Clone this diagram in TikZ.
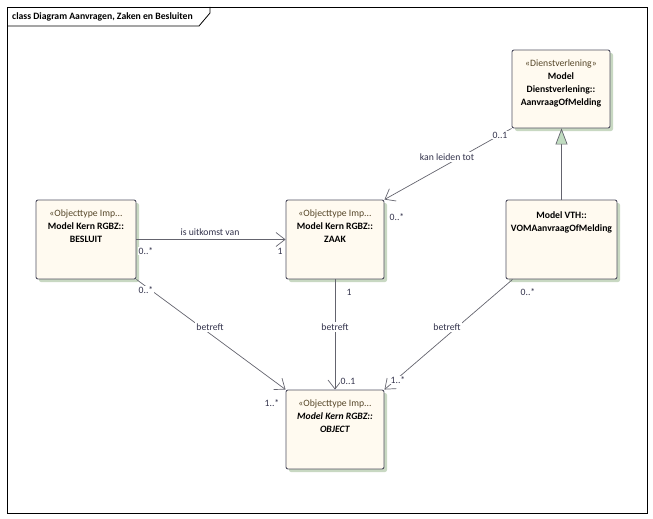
\documentclass[tikz,border=0pt]{standalone}
\usepackage{fontspec}
\setmainfont{Carlito}
\usetikzlibrary{arrows.meta,shadows}

\definecolor{boxfill}{RGB}{255,250,240}
\definecolor{boxline}{RGB}{80,80,96}
\definecolor{boxshadow}{RGB}{200,216,194}
\definecolor{edgeline}{RGB}{100,100,110}
\definecolor{stereo}{RGB}{85,70,40}
\definecolor{labeltext}{RGB}{50,50,75}
\definecolor{genfill}{RGB}{192,220,192}

\begin{document}
\begin{tikzpicture}[x=1pt,y=-1pt,font=\fontsize{9.7}{13}\selectfont,
  klasse/.style={draw=boxline,line width=.9pt,fill=boxfill,rounded corners=2pt,inner sep=0pt,
    drop shadow={shadow xshift=3pt,shadow yshift=-3pt,fill=boxshadow,opacity=1}},
  assoc/.style={draw=edgeline,line width=.7pt},
  pijl/.style={assoc,-{Straight Barb[length=9pt,width=14pt]}},
  rol/.style={text=labeltext,fill=white,inner sep=1pt},
  naam/.style={text=labeltext,fill=white,inner sep=1.5pt}]

\useasboundingbox (0,0) rectangle (653,519);

% frame
\draw[line width=.8pt] (7,7) rectangle (647,513);
\draw[line width=.8pt] (7,26) -- (199,26) -- (210,13) -- (210,7);
\node[anchor=west,inner sep=0pt] (titel) at (12,16.5) {\textbf{class Diagram Aanvragen, Zaken en Besluiten}};

% klassen
\node[klasse] (dienst) at (561,89) {\parbox[c][78pt][t]{98pt}{\centering\rule{0pt}{16.5pt}\textcolor{stereo}{«Dienstverlening»}\\ \textbf{Model}\\ \textbf{Dienstverlening::}\\ \textbf{AanvraagOfMelding}}};
\node[klasse] (besluit) at (86,239.5) {\parbox[c][79pt][t]{100pt}{\centering\rule{0pt}{16.5pt}\textcolor{stereo}{«Objecttype Imp...}\\ \textbf{Model Kern RGBZ::}\\ \textbf{BESLUIT}}};
\node[klasse] (zaak) at (335,239.5) {\parbox[c][79pt][t]{98pt}{\centering\rule{0pt}{16.5pt}\textcolor{stereo}{«Objecttype Imp...}\\ \textbf{Model Kern RGBZ::}\\ \textbf{ZAAK}}};
\node[klasse] (vth) at (561.5,239.5) {\parbox[c][79pt][t]{111pt}{\centering\rule{0pt}{18pt}\textbf{Model VTH::}\\ \textbf{VOMAanvraagOfMelding}}};
\node[klasse] (object) at (335,429.5) {\parbox[c][79pt][t]{98pt}{\centering\rule{0pt}{16.5pt}\textcolor{stereo}{«Objecttype Imp...}\\ \textbf{\itshape Model Kern RGBZ::}\\ \textbf{\itshape OBJECT}}};

% verbindingen
\draw[pijl] (besluit) -- (zaak);
\draw[pijl] (dienst.south west) -- (zaak.north east);
\draw[assoc,-{Triangle[length=16pt,width=12pt,fill=genfill]}] (vth.north) -- (vth.north |- dienst.south);
\draw[pijl] (besluit.south east) -- (object.north west);
\draw[pijl] (zaak) -- (object);
\draw[pijl] ([xshift=7pt]vth.south west) -- (object.north east);

% namen en rollen
\node[naam] (n_uitkomst) at (210,232) {is uitkomst van};
\node[rol] (r_besluit_z) at (146,251) {0..*};
\node[rol] (r_zaak_b) at (280,251) {1};

\node[naam] (n_leiden) at (447,157) {kan leiden tot};
\node[rol] (r_dienst) at (500,135) {0..1};
\node[rol] (r_zaak_d) at (397,217) {0..*};

\node[rol] (r_besluit_o) at (146,290) {0..*};
\node[naam] (n_betreft1) at (210,327) {betreft};
\node[rol] (r_object_b) at (272,403) {1..*};

\node[rol] (r_zaak_o) at (349,292) {1};
\node[naam] (n_betreft2) at (335,327) {betreft};
\node[rol] (r_object_z) at (348,381) {0..1};

\node[rol] (r_vth) at (528,292) {0..*};
\node[naam] (n_betreft3) at (447,327) {betreft};
\node[rol] (r_object_v) at (398,380) {1..*};

\end{tikzpicture}
\end{document}
